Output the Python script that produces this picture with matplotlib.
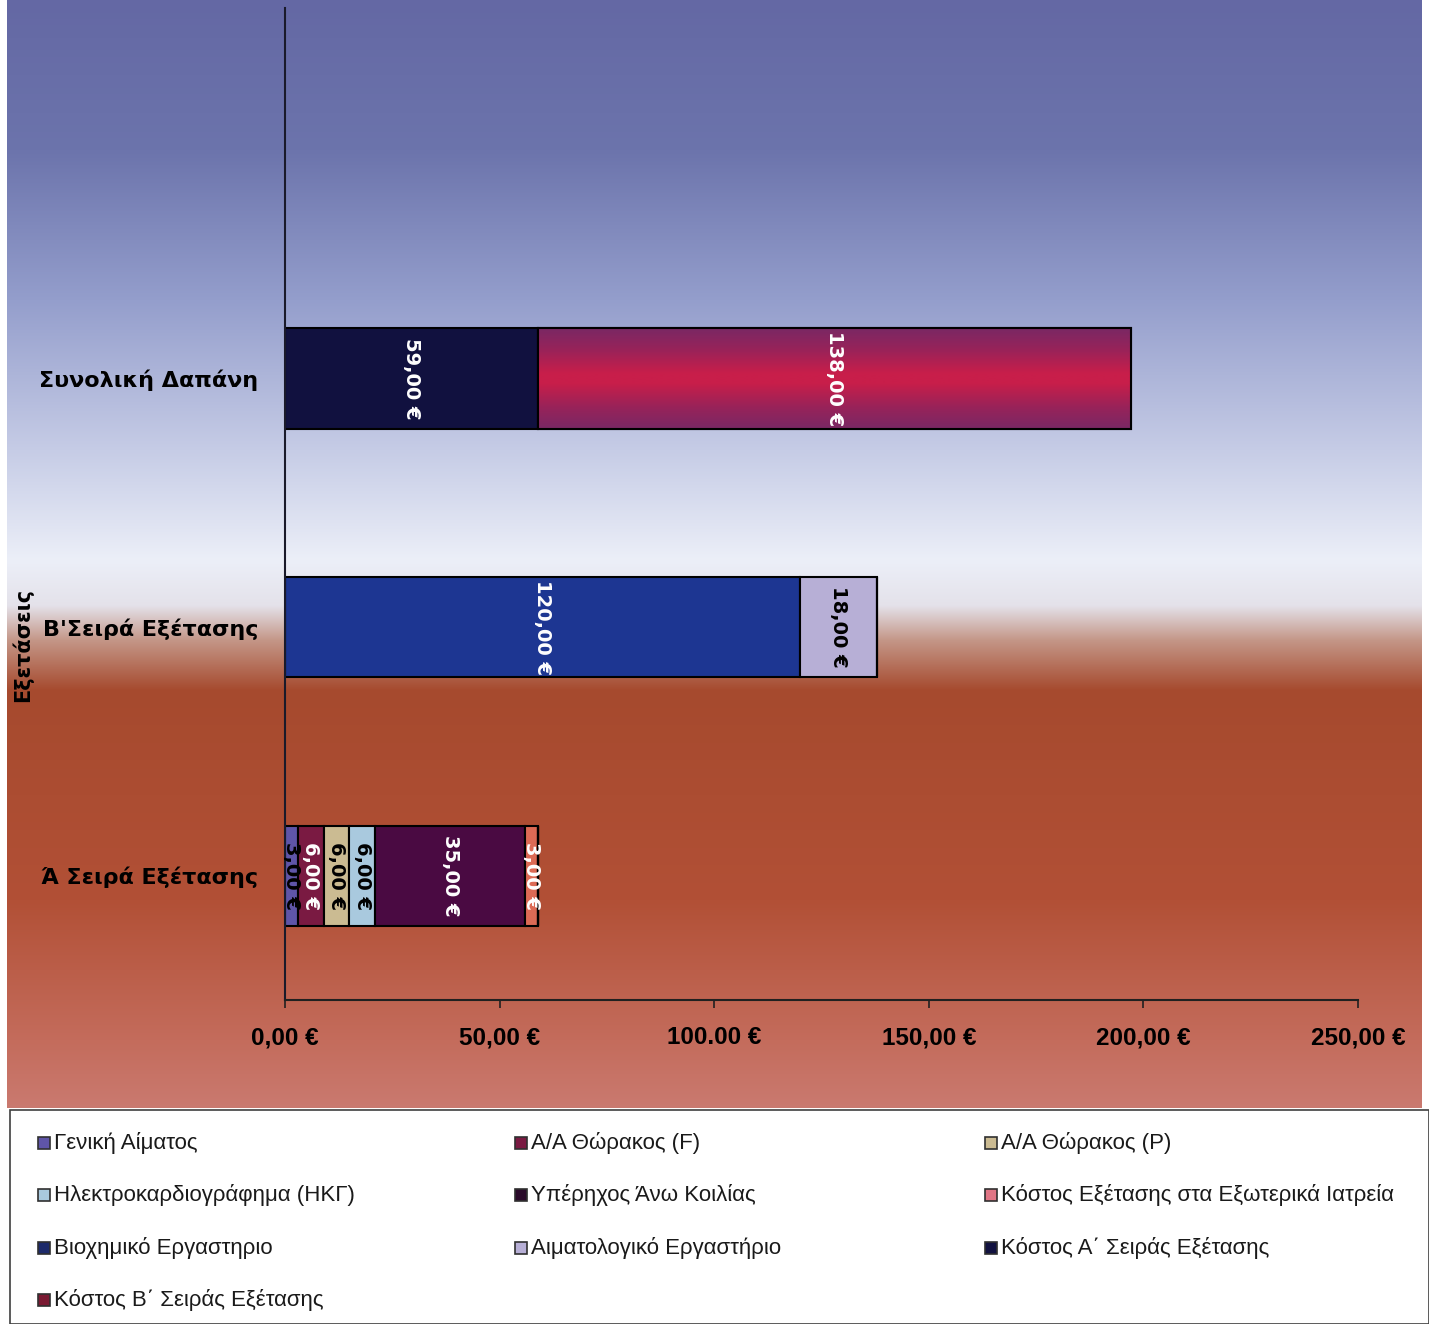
import numpy as np
import matplotlib

matplotlib.use('Agg')
from matplotlib import pyplot as plt
from matplotlib.patches import Rectangle

# categories, bottom to top
categories = ['Ά Σειρά Εξέτασης', "Β'Σειρά Εξέτασης", 'Συνολική Δαπάνη']

# each series: values for [A' series, B' series, total]
genikh_aimatos = [3, 0, 0]
thorakos_f = [6, 0, 0]
thorakos_p = [6, 0, 0]
hkg = [6, 0, 0]
yperhxos = [35, 0, 0]
exoterika = [3, 0, 0]
biochimiko = [0, 120, 0]
aimatologiko = [0, 18, 0]
kostos_a = [0, 0, 59]
kostos_b = [0, 0, 138]

series_names = ['Γενική Αίματος', 'Α/Α Θώρακος (F)', 'Α/Α Θώρακος (P)',
                'Ηλεκτροκαρδιογράφημα (ΗΚΓ)', 'Υπέρηχος Άνω Κοιλίας',
                'Κόστος Εξέτασης στα Εξωτερικά Ιατρεία', 'Βιοχημικό Εργαστηριο',
                'Αιματολογικό Εργαστήριο', 'Κόστος Α΄ Σειράς Εξέτασης',
                'Κόστος Β΄ Σειράς Εξέτασης']
series_values = [genikh_aimatos, thorakos_f, thorakos_p, hkg, yperhxos,
                 exoterika, biochimiko, aimatologiko, kostos_a, kostos_b]
series_colors = ['#5f55a8', '#7a1a42', '#cbbb92', '#a9c9de', '#4a0a42',
                 '#dc6a55', '#1d3692', '#b7afd6', '#11113f', '#c41f4c']
text_colors = ['black', 'white', 'black', 'black', 'white',
               'white', 'white', 'black', 'white', 'white']
legend_colors = ['#5f55a8', '#7a1a42', '#cbbb92', '#a9c9de', '#2a0a2a',
                 '#e07585', '#1d2a6a', '#b7afd6', '#11113f', '#7a1a32']

x_ticks = [0, 50, 100, 150, 200, 250]
x_tick_labels = ['0,00 €', '50,00 €', '100.00 €', '150,00 €', '200,00 €', '250,00 €']

W, H = 1429, 1324
fig = plt.figure(figsize=(W / 100, H / 100), dpi=100)
fig.patch.set_facecolor('white')

# background gradient (pixel row from top -> rgb)
stops = [(0, (100, 104, 164)), (150, (108, 116, 172)), (300, (148, 158, 204)),
         (450, (198, 204, 230)), (560, (236, 239, 248)), (605, (228, 226, 234)),
         (640, (196, 150, 135)), (690, (166, 74, 46)), (900, (178, 80, 54)),
         (1040, (196, 108, 92)), (1108, (202, 122, 112))]
rows = np.arange(1108)
sp = np.array([s[0] for s in stops])
cols = np.array([s[1] for s in stops]) / 255.0
grad = np.stack([np.interp(rows, sp, cols[:, k]) for k in range(3)], axis=1)
bg = fig.add_axes([7 / W, 1 - 1108 / H, 1415 / W, 1108 / H])
bg.imshow(grad[:, None, :], aspect='auto', interpolation='bilinear')
bg.axis('off')

ax = fig.add_axes([285 / W, 1 - 1000 / H, (1358 - 285) / W, 992 / H])
ax.set_facecolor('none')

ypos = np.arange(len(categories))
left = np.zeros(len(categories))
containers = []
for name, vals, color, tcolor in zip(series_names, series_values, series_colors, text_colors):
    vals = np.array(vals, dtype=float)
    bars = ax.barh(ypos, vals, left=left, height=0.403, color=color,
                   edgecolor='black', linewidth=1.5, label=name)
    containers.append(bars)
    labels = [f'{v:.2f} €'.replace('.', ',') if v > 0 else '' for v in vals]
    ax.bar_label(bars, labels=labels, label_type='center', rotation=-90,
                 color=tcolor, fontsize=14, fontweight='bold', family='DejaVu Sans',
                 zorder=5)
    left += vals

# shaded fill for the crimson bar (purple edges, crimson centre)
prof_pos = [0.0, 0.2, 0.45, 0.55, 0.8, 1.0]
prof_rgb = np.array([(122, 40, 100), (150, 35, 90), (200, 30, 74),
                     (200, 30, 74), (150, 35, 90), (122, 40, 100)]) / 255.0
t = np.linspace(0, 1, 100)
shade = np.stack([np.interp(t, prof_pos, prof_rgb[:, k]) for k in range(3)], axis=1)
for p in containers[-1]:
    if p.get_width() > 0:
        x0, y0 = p.get_x(), p.get_y()
        im = ax.imshow(shade[:, None, :], extent=[x0, x0 + p.get_width(), y0, y0 + p.get_height()],
                       aspect='auto', zorder=1.5, interpolation='bilinear')
        ax.add_patch(Rectangle((x0, y0), p.get_width(), p.get_height(), fill=False,
                               edgecolor='black', linewidth=1.5, zorder=1.6))

ax.set_xlim(0, 250)
ax.set_ylim(-0.5, 3.49)
ax.set_yticks(ypos)
ax.set_yticklabels(categories, fontsize=16, fontweight='bold', family='DejaVu Sans')
ax.tick_params(axis='y', length=0, pad=19)
ax.set_xticks(x_ticks)
ax.set_xticklabels(x_tick_labels, fontsize=17.5, fontweight='bold', family='Liberation Sans')
ax.tick_params(axis='x', length=6, width=1.2, pad=13, color='#202020')
for s in ['top', 'right']:
    ax.spines[s].set_visible(False)
ax.spines['left'].set_linewidth(1.5)
ax.spines['left'].set_color('#1a1a2a')
ax.spines['bottom'].set_linewidth(1.5)
ax.spines['bottom'].set_color('#202020')

fig.text(22 / W, 1 - 645 / H, 'Εξετάσεις', rotation=90, ha='center', va='center',
         fontsize=15, fontweight='bold', family='DejaVu Sans')

# legend area
fig.add_artist(Rectangle((10 / W, 0), 1419 / W, 214 / H, transform=fig.transFigure,
                         facecolor='white', edgecolor='#404040', linewidth=1.2))
col_x = [38, 515, 985]
row_y = [1143, 1195, 1248, 1300]
for i, (name, lc) in enumerate(zip(series_names, legend_colors)):
    r, c = divmod(i, 3)
    x0, y0 = col_x[c], row_y[r]
    fig.add_artist(Rectangle((x0 / W, 1 - (y0 + 6) / H), 12 / W, 12 / H,
                             transform=fig.transFigure, facecolor=lc,
                             edgecolor='#303030', linewidth=1.2))
    fig.text((x0 + 16) / W, 1 - y0 / H, name, ha='left', va='center',
             fontsize=16, family='Liberation Sans', color='#1a1a1a')

fig.savefig('out.png', dpi=100)
